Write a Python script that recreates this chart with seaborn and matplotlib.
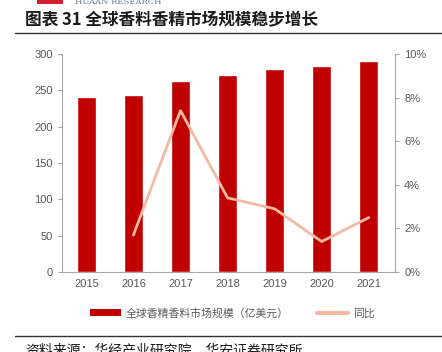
import matplotlib
matplotlib.use("Agg")
import matplotlib.pyplot as plt
import seaborn as sns
import numpy as np
from matplotlib.patches import Patch, Rectangle
from matplotlib.lines import Line2D
from matplotlib.ticker import FuncFormatter, FixedLocator

# 数据
anos = ['2015', '2016', '2017', '2018', '2019', '2020', '2021']
mercado = [241, 244, 262, 271, 279, 283, 290]
anos_yoy = ['2016', '2017', '2018', '2019', '2020', '2021']
yoy = [1.7, 7.4, 3.4, 2.9, 1.4, 2.5]

sns.set_style("white")
plt.rcParams['font.family'] = ['Liberation Sans', 'Noto Sans CJK SC', 'DejaVu Sans']

cinza = '#595959'
eixo = '#A6A6A6'
vermelho = '#C00000'
salmao = '#F5B9A3'

fig = plt.figure(figsize=(4.42, 3.52), dpi=100)
ax = fig.add_axes([0.140, 0.227, 0.754, 0.620])

sns.barplot(x=anos, y=mercado, color=vermelho, width=0.41, saturation=1, ax=ax)
ax.set_xlim(-0.52, 6.56)
ax.set_ylim(0, 300)
ax.set_yticks(np.arange(0, 301, 50))
ax.set_xlabel('')
ax.set_ylabel('')

ax2 = ax.twinx()
pos = [anos.index(a) for a in anos_yoy]
sns.lineplot(x=pos, y=yoy, color=salmao, linewidth=2.0, ax=ax2)
ax2.set_ylim(0, 10)
ax2.set_yticks(np.arange(0, 11, 2))
ax2.yaxis.set_major_formatter(FuncFormatter(lambda v, p: f'{v:.0f}%'))
ax2.set_ylabel('')

for a in (ax, ax2):
    a.spines['top'].set_visible(False)
    for s in ['left', 'right', 'bottom']:
        a.spines[s].set_color(eixo)
        a.spines[s].set_linewidth(0.8)
    a.tick_params(axis='y', colors=cinza, labelsize=8, length=3, width=0.8, color=eixo, direction='out')
ax2.spines['left'].set_visible(False)
ax.spines['right'].set_visible(False)
ax2.spines['bottom'].set_visible(False)

ax.tick_params(axis='x', which='major', length=0, labelsize=8, labelcolor=cinza, pad=5)
ax.xaxis.set_minor_locator(FixedLocator(np.arange(-0.5, 7, 1)))
ax.tick_params(axis='x', which='minor', length=3, width=0.8, color=eixo, direction='out')

# legenda
handles = [Patch(facecolor=vermelho, edgecolor='none'),
           Line2D([0], [0], color=salmao, linewidth=3)]
fig.legend(handles, ['全球香精香料市场规模（亿美元）', '同比'], loc='center',
           bbox_to_anchor=(0.525, 0.11), ncol=2, frameon=False, fontsize=7.8,
           labelcolor=cinza, handlelength=2.9, handleheight=0.6, columnspacing=2.6,
           handletextpad=0.4)

# cabeçalho
fig.add_artist(Rectangle((37 / 442, 1 - 4 / 352), 26 / 442, 4 / 352,
                         transform=fig.transFigure, color='#D0202F', lw=0))
fig.text(75 / 442, 1 - 2 / 352, 'HUAAN RESEARCH', fontsize=6, color='#6A7A99',
         family='DejaVu Serif', va='center', ha='left')
fig.text(25 / 442, 1 - 20 / 352, '图表 31 全球香料香精市场规模稳步增长', fontsize=12,
         fontweight='bold', color='#1a1a1a', va='center', ha='left',
         family=['Noto Sans CJK SC', 'DejaVu Sans'])
fig.add_artist(Line2D([15 / 442, 1], [1 - 33 / 352] * 2, transform=fig.transFigure,
                      color='#333333', linewidth=1.0))
fig.add_artist(Line2D([15 / 442, 1], [1 - 336 / 352] * 2, transform=fig.transFigure,
                      color='#333333', linewidth=1.0))
fig.text(25 / 442, 1 - 350 / 352, '资料来源：华经产业研究院，华安证券研究所', fontsize=10,
         color='#1a1a1a', va='center', ha='left', family=['Noto Sans CJK SC', 'DejaVu Sans'])

plt.savefig('out.png', dpi=100)
